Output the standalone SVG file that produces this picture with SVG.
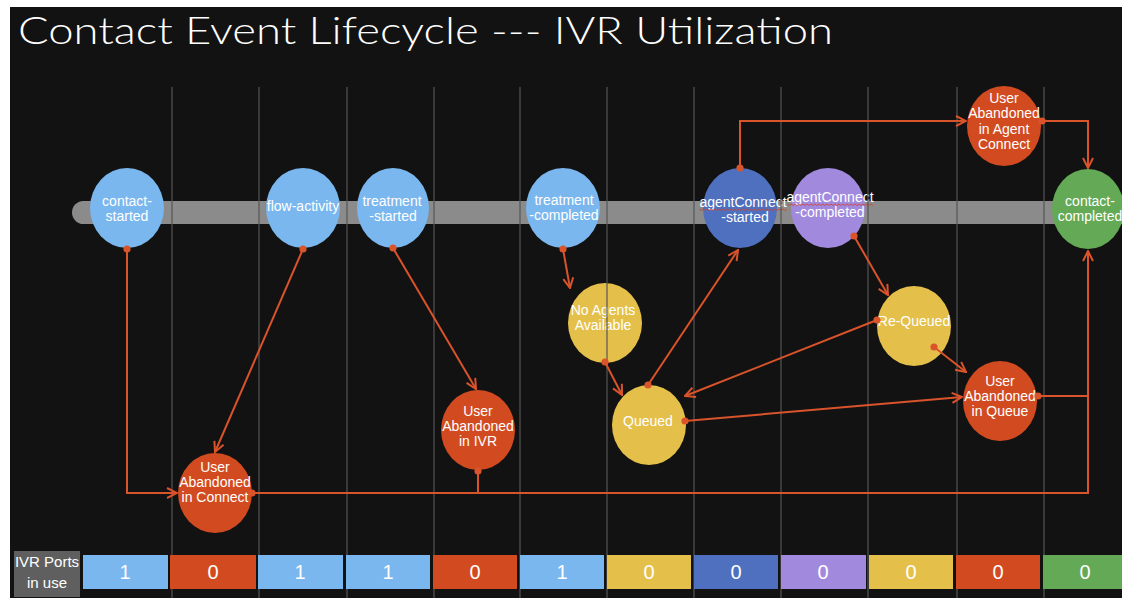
<svg xmlns="http://www.w3.org/2000/svg" width="1122" height="598" viewBox="0 0 1122 598">
<defs>
<style>
.nt{font-family:"Liberation Sans",Arial,sans-serif;font-size:14px;fill:#ffffff;text-anchor:middle}
.num{font-family:"Liberation Sans",Arial,sans-serif;font-size:20px;fill:#ffffff;text-anchor:middle}
.grid{stroke:#555555;stroke-width:1.2}
.con{fill:none;stroke:#d9532b;stroke-width:2}
.lb{fill:#7ab7ee}.rd{fill:#d24b20}.yl{fill:#e4c04b}.db{fill:#4f70bf}.pp{fill:#a18ade}.gr{fill:#64a955}
.wavy{fill:none;stroke:#d0402a;stroke-width:0.8}
</style>
<marker id="arr" viewBox="0 0 12 12" refX="11" refY="6" markerWidth="12" markerHeight="12" orient="auto" markerUnits="userSpaceOnUse">
<path d="M1,1 L11,6 L1,11" fill="none" stroke="#d9532b" stroke-width="2"/>
</marker>
<marker id="dot" viewBox="0 0 8 8" refX="4" refY="4" markerWidth="8" markerHeight="8" markerUnits="userSpaceOnUse">
<circle cx="4" cy="4" r="3.6" fill="#d9532b"/>
</marker>
</defs>
<rect x="0" y="0" width="1122" height="598" fill="#ffffff"/>
<rect x="10" y="7" width="1112" height="591" fill="#121212"/>
<text x="18" y="44" font-family="Lato,'Open Sans','Liberation Sans',sans-serif" font-weight="300" font-size="38" fill="#ffffff" textLength="815" lengthAdjust="spacingAndGlyphs">Contact Event Lifecycle --- IVR Utilization</text>
<rect id="timeline" x="72" y="201" width="1070" height="23" rx="11.5" fill="#8b8b8b"/>

<g id="n-contact-started"><ellipse class="lb" cx="127" cy="208" rx="37" ry="40"/><text class="nt" x="127" y="206">contact-</text><text class="nt" x="127" y="221">started</text></g>
<g id="n-flow-activity"><ellipse class="lb" cx="303" cy="208" rx="37" ry="40"/><text class="nt" x="303" y="210.5">flow-activity</text></g>
<g id="n-treatment-started"><ellipse class="lb" cx="393" cy="208" rx="36" ry="40"/><text class="nt" x="392" y="206">treatment</text><text class="nt" x="393" y="221">-started</text></g>
<g id="n-treatment-completed"><ellipse class="lb" cx="563" cy="208" rx="37" ry="40"/><text class="nt" x="564" y="205">treatment</text><text class="nt" x="564" y="220">-completed</text></g>
<g id="n-agentconnect-started"><ellipse class="db" cx="740" cy="208" rx="37" ry="40"/><text class="nt" x="743" y="207">agentConnect</text><text class="nt" x="745" y="222">-started</text><path class="wavy" d="M699,209 l2,1.5 l2,-1.5 l2,1.5 l2,-1.5 l2,1.5 l2,-1.5 l2,1.5 l2,-1.5 l2,1.5 l2,-1.5 l2,1.5 l2,-1.5 l2,1.5 l2,-1.5 l2,1.5 l2,-1.5 l2,1.5 l2,-1.5 l2,1.5 l2,-1.5 l2,1.5 l2,-1.5 l2,1.5 l2,-1.5 l2,1.5 l2,-1.5 l2,1.5 l2,-1.5 l2,1.5 l2,-1.5 l2,1.5 l2,-1.5 l2,1.5 l2,-1.5 l2,1.5 l2,-1.5 l2,1.5 l2,-1.5 l2,1.5 l2,-1.5 l2,1.5 l2,-1.5 l2,1.5 l2,-1.5"/></g>
<g id="n-agentconnect-completed"><ellipse class="pp" cx="828" cy="208" rx="37" ry="40"/><text class="nt" x="830" y="202">agentConnect</text><text class="nt" x="830" y="217">-completed</text><path class="wavy" d="M787,204 l2,1.5 l2,-1.5 l2,1.5 l2,-1.5 l2,1.5 l2,-1.5 l2,1.5 l2,-1.5 l2,1.5 l2,-1.5 l2,1.5 l2,-1.5 l2,1.5 l2,-1.5 l2,1.5 l2,-1.5 l2,1.5 l2,-1.5 l2,1.5 l2,-1.5 l2,1.5 l2,-1.5 l2,1.5 l2,-1.5 l2,1.5 l2,-1.5 l2,1.5 l2,-1.5 l2,1.5 l2,-1.5 l2,1.5 l2,-1.5 l2,1.5 l2,-1.5 l2,1.5 l2,-1.5 l2,1.5 l2,-1.5 l2,1.5 l2,-1.5 l2,1.5 l2,-1.5 l2,1.5"/></g>
<g id="n-ua-agent-connect"><ellipse class="rd" cx="1004" cy="126" rx="37" ry="40"/><text class="nt" x="1004" y="102.5">User</text><text class="nt" x="1004" y="118">Abandoned</text><text class="nt" x="1004" y="134">in Agent</text><text class="nt" x="1004" y="149">Connect</text></g>
<g id="n-contact-completed"><ellipse class="gr" cx="1088" cy="209" rx="36" ry="40"/><text class="nt" x="1090" y="206">contact-</text><text class="nt" x="1090" y="221">completed</text></g>
<g id="n-no-agents"><ellipse class="yl" cx="605" cy="323" rx="37" ry="40"/><text class="nt" x="603" y="315">No Agents</text><text class="nt" x="603" y="330">Available</text></g>
<g id="n-queued"><ellipse class="yl" cx="649" cy="425" rx="37" ry="40"/><text class="nt" x="648" y="425.5">Queued</text></g>
<g id="n-re-queued"><ellipse class="yl" cx="914" cy="326" rx="37" ry="40"/><text class="nt" x="914" y="325.5">Re-Queued</text></g>
<g id="n-ua-queue"><ellipse class="rd" cx="1000" cy="401" rx="37" ry="40"/><text class="nt" x="1000" y="385.5">User</text><text class="nt" x="1000" y="400.5">Abandoned</text><text class="nt" x="1000" y="416">in Queue</text></g>
<g id="n-ua-ivr"><ellipse class="rd" cx="478" cy="430" rx="37" ry="40"/><text class="nt" x="478" y="415.5">User</text><text class="nt" x="478" y="430.5">Abandoned</text><text class="nt" x="478" y="446">in IVR</text></g>
<g id="n-ua-connect"><ellipse class="rd" cx="215" cy="493" rx="37" ry="40"/><text class="nt" x="215" y="472">User</text><text class="nt" x="215" y="487">Abandoned</text><text class="nt" x="215" y="502">in Connect</text></g>

<g id="grid">
<line class="grid" x1="172" y1="87" x2="172" y2="598"/>
<line class="grid" x1="259" y1="87" x2="259" y2="598"/>
<line class="grid" x1="347" y1="87" x2="347" y2="598"/>
<line class="grid" x1="434" y1="87" x2="434" y2="598"/>
<line class="grid" x1="520" y1="87" x2="520" y2="598"/>
<line class="grid" x1="607" y1="87" x2="607" y2="598"/>
<line class="grid" x1="694" y1="87" x2="694" y2="598"/>
<line class="grid" x1="781" y1="87" x2="781" y2="598"/>
<line class="grid" x1="868" y1="87" x2="868" y2="598"/>
<line class="grid" x1="957" y1="87" x2="957" y2="598"/>
<line class="grid" x1="1044" y1="87" x2="1044" y2="598"/>
</g>

<g id="connectors">
<path class="con" marker-start="url(#dot)" marker-end="url(#arr)" d="M127,249 L127,493 L177,493"/>
<path class="con" marker-start="url(#dot)" marker-end="url(#arr)" d="M303,249 L215,452"/>
<path class="con" marker-start="url(#dot)" marker-end="url(#arr)" d="M393,248 L476,389"/>
<path class="con" marker-start="url(#dot)" marker-end="url(#arr)" d="M252,493 L1088,493 L1088,251"/>
<path class="con" marker-start="url(#dot)" d="M478,471 L478,493"/>
<path class="con" marker-start="url(#dot)" d="M1038,396 L1088,396"/>
<path class="con" marker-start="url(#dot)" marker-end="url(#arr)" d="M563,249 L570,288"/>
<path class="con" marker-start="url(#dot)" marker-end="url(#arr)" d="M605,362 L622,395"/>
<path class="con" marker-start="url(#dot)" marker-end="url(#arr)" d="M648,385 L738,250"/>
<path class="con" marker-start="url(#dot)" marker-end="url(#arr)" d="M740,168 L740,121 L966,121"/>
<path class="con" marker-start="url(#dot)" marker-end="url(#arr)" d="M1042,121 L1088,121 L1088,168"/>
<path class="con" marker-start="url(#dot)" marker-end="url(#arr)" d="M854,236 L888,295"/>
<path class="con" marker-start="url(#dot)" marker-end="url(#arr)" d="M877,320 L685,396"/>
<path class="con" marker-start="url(#dot)" marker-end="url(#arr)" d="M934,347 L966,372"/>
<path class="con" marker-start="url(#dot)" marker-end="url(#arr)" d="M685,421 L962,397"/>
</g>

<g id="ivr-ports">
<rect x="14" y="551" width="66" height="46" fill="#5f5f5f"/>
<text class="nt" x="47" y="567" style="font-size:15px">IVR Ports</text>
<text class="nt" x="47" y="588" style="font-size:15px">in use</text>
<rect class="lb" x="83" y="555" width="85" height="34"/><text class="num" x="125" y="579">1</text>
<rect class="rd" x="170" y="555" width="86" height="34"/><text class="num" x="213" y="579">0</text>
<rect class="lb" x="258" y="555" width="85" height="34"/><text class="num" x="300" y="579">1</text>
<rect class="lb" x="346" y="555" width="84" height="34"/><text class="num" x="388" y="579">1</text>
<rect class="rd" x="433" y="555" width="84" height="34"/><text class="num" x="475" y="579">0</text>
<rect class="lb" x="520" y="555" width="84" height="34"/><text class="num" x="562" y="579">1</text>
<rect class="yl" x="607" y="555" width="84" height="34"/><text class="num" x="649" y="579">0</text>
<rect class="db" x="694" y="555" width="84" height="34"/><text class="num" x="736" y="579">0</text>
<rect class="pp" x="781" y="555" width="85" height="34"/><text class="num" x="823" y="579">0</text>
<rect class="yl" x="869" y="555" width="84" height="34"/><text class="num" x="911" y="579">0</text>
<rect class="rd" x="956" y="555" width="84" height="34"/><text class="num" x="998" y="579">0</text>
<rect class="gr" x="1043" y="555" width="79" height="34"/><text class="num" x="1085" y="579">0</text>
</g>
</svg>
